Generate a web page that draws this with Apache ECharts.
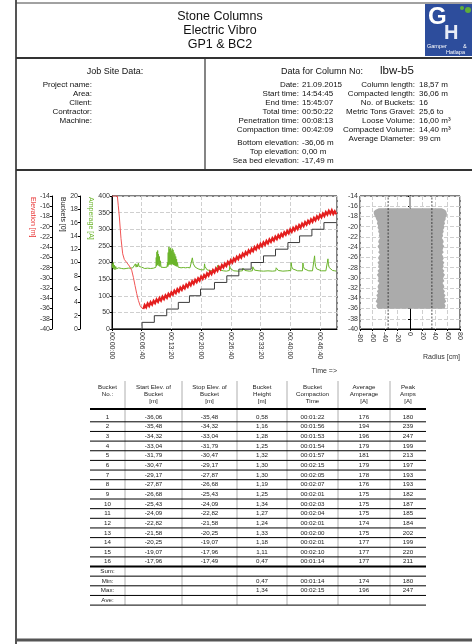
<!DOCTYPE html>
<html><head><meta charset="utf-8">
<script src="https://cdn.jsdelivr.net/npm/echarts/dist/echarts.min.js"></script>
<style>html,body{margin:0;padding:0;background:#fff;}#c{width:472px;height:644px;}</style>
</head><body><div id="c"></div>
<script>
// ---------- DATA ----------
const titleLines = ['Stone Columns', 'Electric Vibro', 'GP1 & BC2'];
const jobLabels = ['Project name:', 'Area:', 'Client:', 'Contractor:', 'Machine:'];
const columnNo = 'lbw-b5';
const info1Labels = ['Date:', 'Start time:', 'End time:', 'Total time:', 'Penetration time:', 'Compaction time:', 'Bottom elevation:', 'Top elevation:', 'Sea bed elevation:'];
const info1Values = ['21.09.2015', '14:54:45', '15:45:07', '00:50:22', '00:08:13', '00:42:09', '-36,06 m', '0,00 m', '-17,49 m'];
const info2Labels = ['Column length:', 'Compacted length:', 'No. of Buckets:', 'Metric Tons Gravel:', 'Loose Volume:', 'Compacted Volume:', 'Average Diameter:'];
const info2Values = ['18,57 m', '36,06 m', '16', '25,6 to', '16,00 m³', '14,40 m³', '99 cm'];

// elevation during penetration [s, m]
const elevDescent = [[0,-14],[72,-14],[84,-15.8],[99,-18.1],[121,-22.3],[144,-25.3],[166,-26.4],[198,-27.0],[234,-27.7],[265,-28.5],[288,-29.9],[310,-31.5],[333,-33.1],[355,-34.4],[378,-35.4],[400,-35.9],[423,-36.06]];
// elevation during compaction
const elevTime = [440,460,480,500,520,540,560,580,600,620,640,660,680,700,720,740,760,780,800,820,840,860,880,900,920,940,960,980,1000,1020,1040,1060,1080,1100,1120,1140,1160,1180,1200,1220,1240,1260,1280,1300,1320,1340,1360,1380,1400,1420,1440,1460,1480,1500,1520,1540,1560,1580,1600,1620,1640,1660,1680,1700,1720,1740,1760,1780,1800,1820,1840,1860,1880,1900,1920,1940,1960,1980,2000,2020,2040,2060,2080,2100,2120,2140,2160,2180,2200,2220,2240,2260,2280,2300,2320,2340,2360,2380,2400,2420,2440,2460,2480,2500,2520,2540,2560,2580,2600,2620,2640,2660,2680,2700,2720,2740,2760,2780,2800,2820,2840,2860,2880,2900,2920,2940,2960,2980,3000,3020];
const elevValue = [-35.30,-35.75,-35.02,-35.49,-34.75,-35.22,-34.49,-34.95,-34.22,-34.69,-33.95,-34.42,-33.69,-34.15,-33.42,-33.88,-33.13,-33.58,-32.83,-33.27,-32.52,-32.97,-32.22,-32.67,-31.91,-32.36,-31.61,-32.06,-31.31,-31.75,-31.00,-31.45,-30.70,-31.15,-30.39,-30.84,-30.09,-30.54,-29.78,-30.22,-29.46,-29.90,-29.14,-29.57,-28.81,-29.25,-28.49,-28.93,-28.17,-28.61,-27.85,-28.29,-27.53,-27.96,-27.20,-27.64,-26.88,-27.32,-26.56,-27.00,-26.24,-26.68,-25.92,-26.36,-25.60,-26.04,-25.28,-25.72,-24.96,-25.40,-24.64,-25.08,-24.32,-24.76,-24.00,-24.44,-23.68,-24.12,-23.36,-23.82,-23.08,-23.54,-22.80,-23.26,-22.51,-22.97,-22.23,-22.69,-21.95,-22.41,-21.67,-22.13,-21.39,-21.85,-21.10,-21.56,-20.82,-21.28,-20.54,-21.00,-20.26,-20.72,-19.98,-20.44,-19.69,-20.15,-19.41,-19.87,-19.13,-19.59,-18.85,-19.31,-18.57,-19.03,-18.28,-18.74,-18.00,-18.46,-17.72,-18.18,-17.44,-17.90,-17.16,-17.62,-16.90,-17.45,-16.80,-17.50,-17.00,-17.55];

// amperage [s, A]
const amperage = [[0,196],[8,184],[16,200],[24,180],[32,192],[40,178],[50,188],[60,181],[70,186],[80,179],[90,184],[100,180],[115,186],[130,182],[145,185],[160,181],[175,184],[190,182],[205,185],[220,183],[235,187],[250,183],[265,186],[280,184],[295,190],[305,185],[315,196],[325,186],[335,194],[345,187],[355,198],[365,188],[375,192],[385,185],[400,186],
[420,184],[440,182],[460,185],[480,183],[500,184],[520,182],[540,185],[560,183],[580,184],
[592,186],[596,215],[600,190],[605,232],[610,192],[615,236],[620,195],[626,225],[632,190],[638,218],[645,188],[652,205],[660,186],[680,184],[700,185],[720,183],[740,186],
[748,200],[752,188],[757,230],[762,192],[767,247],[772,195],[777,240],[782,193],[788,244],[793,196],[798,235],[804,194],[810,242],[816,195],[822,238],[828,193],[834,230],[840,192],[846,225],[852,190],[858,218],[864,189],[870,210],[876,188],[882,200],[890,186],
[910,185],[930,184],[960,185],[990,184],[1020,185],[1050,184],[1075,186],[1082,214],[1088,205],[1095,196],[1105,190],[1120,186],[1140,183],[1160,181],[1180,179],[1200,178],[1220,177],[1240,178],[1246,196],[1252,188],[1262,182],[1280,178],[1300,176],[1330,175],[1360,176],[1400,175],[1420,176],[1426,192],[1432,185],[1442,180],[1460,177],[1500,175],[1540,174],[1560,175],[1580,176],[1586,189],[1592,182],[1605,178],[1640,175],[1700,174],[1756,175],[1762,183],[1770,179],[1790,176],[1850,174],[1890,175],[1896,187],[1904,181],[1920,177],[1980,175],[2040,174],[2100,175],[2160,174],[2205,175],[2211,184],[2220,179],[2240,176],[2300,174],[2360,175],[2407,176],[2413,200],[2420,188],[2432,181],[2450,177],[2500,175],[2565,175],[2571,199],[2578,188],[2590,181],[2610,177],[2650,175],[2700,175],[2722,176],[2728,220],[2734,200],[2742,188],[2755,181],[2775,177],[2820,175],[2880,175],[2902,176],[2908,211],[2914,195],[2924,185],[2940,179],[2970,176],[3000,175],[3020,174]];

// bucket counter steps [s]
const bucketStepTime = [405,570,737,893,1043,1192,1380,1546,1708,1874,2040,2202,2369,2526,2692,2854];
const endTime = 3022;

// column radius profile
const profElev = [-36.06,-35.8,-35.4,-35.0,-34.6,-34.2,-33.8,-33.4,-33.0,-32.6,-32.2,-31.8,-31.4,-31.0,-30.6,-30.2,-29.8,-29.4,-29.0,-28.6,-28.2,-27.8,-27.4,-27.0,-26.6,-26.2,-25.8,-25.4,-25.0,-24.6,-24.2,-23.8,-23.4,-23.0,-22.6,-22.2,-21.8,-21.4,-21.0,-20.6,-20.2,-19.8,-19.4,-19.0,-18.6,-18.2,-17.8,-17.4,-17.0,-16.7,-16.4];
const profLeft = [51,53,54,52,55,53,52,54,51,53,50,52,51,49,52,50,51,53,50,52,49,51,50,52,49,51,50,48,51,49,50,52,49,51,50,48,50,49,51,50,52,51,53,52,54,55,57,58,58,55,50];
const profRight = [55,56,57,55,58,56,55,57,54,56,53,55,54,52,55,53,54,56,53,55,52,54,53,55,52,54,53,51,54,52,53,55,52,54,53,51,53,52,54,53,55,54,56,55,57,57,59,59,58,56,51];
const designRadius = 35;

// table
const tableHeaders = [['Bucket','No.:'],['Start Elev. of','Bucket','[m]'],['Stop Elev. of','Bucket','[m]'],['Bucket','Height','[m]'],['Bucket','Compaction','Time'],['Average','Amperage','[A]'],['Peak','Amps','[A]']];
const bucketNo = ['1','2','3','4','5','6','7','8','9','10','11','12','13','14','15','16'];
const startElev = ['-36,06','-35,48','-34,32','-33,04','-31,79','-30,47','-29,17','-27,87','-26,68','-25,43','-24,09','-22,82','-21,58','-20,25','-19,07','-17,96'];
const stopElev = ['-35,48','-34,32','-33,04','-31,79','-30,47','-29,17','-27,87','-26,68','-25,43','-24,09','-22,82','-21,58','-20,25','-19,07','-17,96','-17,49'];
const bucketHeight = ['0,58','1,16','1,28','1,25','1,32','1,30','1,30','1,19','1,25','1,34','1,27','1,24','1,33','1,18','1,11','0,47'];
const compTime = ['00:01:22','00:01:56','00:01:53','00:01:54','00:01:57','00:02:15','00:02:05','00:02:07','00:02:01','00:02:03','00:02:04','00:02:01','00:02:00','00:02:01','00:02:10','00:01:14'];
const avgAmp = ['176','194','196','179','181','179','178','176','175','175','175','174','175','177','177','177'];
const peakAmp = ['180','239','247','199','213','197','193','193','182','187','185','184','202','199','220','211'];
const summaryLabels = ['Sum:','Min:','Max:','Ave:'];
const summaryValues = [['','','','','',''],['','','0,47','00:01:14','174','180'],['','','1,34','00:02:15','196','247'],['','','','','','']];

// ---------- DRAW ----------
const FONT = '"Liberation Sans", Arial, Helvetica, sans-serif';
function T(text, x, y, size, o) {
  o = o || {};
  return {type:'text', x:x, y:y, rotation:o.rot||0, silent:true, z:10,
    style:{text:text, font:(o.bold?'bold ':'')+size+'px '+FONT, fill:o.fill||'#111',
      align:o.align||'left', verticalAlign:'middle', textAlign:o.align||'left', textVerticalAlign:'middle'}};
}
function L(x1,y1,x2,y2,w,c){ return {type:'line', silent:true, z:9, shape:{x1:x1,y1:y1,x2:x2,y2:y2}, style:{stroke:c||'#000', lineWidth:w||1}}; }
function R(x,y,w,h,f){ return {type:'rect', silent:true, z:8, shape:{x:x,y:y,width:w,height:h}, style:{fill:f}}; }

const g = [];
// frame
g.push(L(16,0,16,644,2,'#555'));
g.push(L(16,3,472,3,1,'#444'));
g.push(L(16,58,472,58,2,'#333'));
g.push(L(205,58,205,170,1.2,'#333'));
g.push(L(16,170,472,170,2,'#333'));
g.push(L(16,640,472,640,3,'#555'));
// title
titleLines.forEach((t,i)=>g.push(T(t,220,17+i*13.6,12.5,{align:'center'})));
// logo
g.push(R(425,4,47,52,'#2d4d9c'));
g.push(T('G',428,17,24,{bold:true,fill:'#fff'}));
g.push(T('H',444,33,20,{bold:true,fill:'#e8ecf6'}));
g.push(T('Gamper',427,46,5.5,{fill:'#fff'}));
g.push(T('&',463,46,5.5,{fill:'#fff'}));
g.push(T('Hatlapa',446,52,5.5,{fill:'#fff'}));
g.push({type:'circle', silent:true, z:9, shape:{cx:468,cy:10,r:3}, style:{fill:'#5fae3a'}});
g.push({type:'circle', silent:true, z:9, shape:{cx:462,cy:8,r:2}, style:{fill:'#5fae3a'}});
// job site
g.push(T('Job Site Data:',115,72,9,{align:'center'}));
jobLabels.forEach((t,i)=>g.push(T(t,92,85+i*9,8,{align:'right'})));
g.push(T('Data for Column No:',322,72,9,{align:'center'}));
g.push(T(columnNo,380,71,11.5));
info1Labels.forEach((t,i)=>{ const y = 85+i*9+(i>=6?4:0); g.push(T(t,299,y,8,{align:'right'})); g.push(T(info1Values[i],302,y,8)); });
info2Labels.forEach((t,i)=>{ const y = 85+i*9; g.push(T(t,415,y,8,{align:'right'})); g.push(T(info2Values[i],419,y,8)); });
// axis names
g.push(T('Elevation [m]',33,197,7,{rot:-Math.PI/2,fill:'#e83030'}));
g.push(T('Buckets [0]',63,197,7,{rot:-Math.PI/2,fill:'#222'}));
g.push(T('Amperage [A]',91,197,7,{rot:-Math.PI/2,fill:'#6ab42a'}));
g.push(T('Time =>',337,371,7,{align:'right',fill:'#333'}));
g.push(T('Radius [cm]',460,357,7,{align:'right',fill:'#333'}));

// table
const colX = [90,125,182,237,287,338,390,426];
const colC = colX.slice(0,-1).map((x,i)=>(x+colX[i+1])/2);
const tTop = 381, rowH = 9.65, row0 = 417;
for (let i=1;i<colX.length-1;i++) g.push(L(colX[i],tTop,colX[i],605,0.8,'#999'));
tableHeaders.forEach((lines,c)=>lines.forEach((t,k)=>g.push(T(t,colC[c],387+k*7,6.2,{align:'center',fill:'#222'}))));
g.push(L(90,409,426,409,2,'#000'));
const cols = [bucketNo,startElev,stopElev,bucketHeight,compTime,avgAmp,peakAmp];
bucketNo.forEach((b,i)=>{
  const y = row0 + i*rowH;
  cols.forEach((arr,c)=>g.push(T(arr[i],colC[c],y,6.2,{align:'center',fill:'#222'})));
  if (i<15) g.push(L(90,y+4.8,426,y+4.8,1,'#000'));
});
const yEnd16 = row0 + 15*rowH + 4.8;
g.push(L(90,yEnd16,426,yEnd16,2,'#000'));
summaryLabels.forEach((s,j)=>{
  const y = yEnd16 + 4.8 + j*rowH;
  g.push(T(s,colC[0],y,6.2,{align:'center',fill:'#222'}));
  summaryValues[j].forEach((v,c)=>{ if(v) g.push(T(v,colC[c+1],y,6.2,{align:'center',fill:'#222'})); });
  g.push(L(90,y+4.8,426,y+4.8,1,'#000'));
});

function hms(v){ const p=n=>String(n).padStart(2,'0'); return p(Math.floor(v/3600))+':'+p(Math.floor(v%3600/60))+':'+p(Math.floor(v%60)); }

const elevComp = elevTime.map((t,i)=>[t,elevValue[i]]);
const bucketData = [[0,0]].concat(bucketStepTime.map((t,i)=>[t,i+1])).concat([[endTime,bucketStepTime.length]]);

const axisCommon = {
  axisLine:{show:true,lineStyle:{color:'#000',width:1}},
  axisTick:{show:true,length:2,lineStyle:{color:'#000'}},
  axisLabel:{fontSize:7,color:'#333',margin:2,fontFamily:'Liberation Sans'},
  splitLine:{show:false}
};
const dashed = {show:true,lineStyle:{color:'#cfcfcf',type:'dashed',width:1}};

const option = {
  animation:false,
  backgroundColor:'#fff',
  grid:[
    {left:112,top:196,width:225,height:133,show:true,borderColor:'#000',borderWidth:1,backgroundColor:'transparent'},
    {left:360,top:196,width:100,height:133,show:true,borderColor:'#000',borderWidth:1,backgroundColor:'transparent'}
  ],
  xAxis:[
    Object.assign({},axisCommon,{gridIndex:0,type:'value',min:0,max:3030,interval:400,splitLine:dashed,
      axisLabel:Object.assign({},axisCommon.axisLabel,{rotate:-90,formatter:hms,showMaxLabel:false,margin:3})}),
    Object.assign({},axisCommon,{gridIndex:1,type:'value',min:-80,max:80,interval:20,splitLine:dashed,
      axisLabel:Object.assign({},axisCommon.axisLabel,{rotate:-90,margin:3})})
  ],
  yAxis:[
    Object.assign({},axisCommon,{gridIndex:0,type:'value',min:0,max:400,interval:50,position:'left',offset:0,splitLine:dashed}),
    Object.assign({},axisCommon,{gridIndex:0,type:'value',min:0,max:20,interval:2,position:'left',offset:32}),
    Object.assign({},axisCommon,{gridIndex:0,type:'value',min:-40,max:-14,interval:2,position:'left',offset:60}),
    Object.assign({},axisCommon,{gridIndex:1,type:'value',min:-40,max:-14,interval:2,position:'left',offset:0,splitLine:dashed})
  ],
  series:[
    {type:'line',xAxisIndex:0,yAxisIndex:0,data:amperage,showSymbol:false,symbol:'none',clip:true,
      lineStyle:{color:'#6ab42a',width:1},z:3},
    {type:'line',xAxisIndex:0,yAxisIndex:1,data:bucketData,step:'end',showSymbol:false,symbol:'none',clip:true,
      lineStyle:{color:'#3a3a3a',width:1},z:4},
    {type:'line',xAxisIndex:0,yAxisIndex:2,data:elevDescent,showSymbol:false,symbol:'none',clip:true,
      lineStyle:{color:'#f05555',width:1},z:5},
    {type:'line',xAxisIndex:0,yAxisIndex:2,data:[elevDescent[elevDescent.length-1]].concat(elevComp),showSymbol:false,symbol:'none',clip:true,
      lineStyle:{color:'#e41e1e',width:2.2,join:'miter'},z:5},
    {type:'custom',xAxisIndex:1,yAxisIndex:3,coordinateSystem:'cartesian2d',data:[[0,-25]],clip:true,z:3,
      renderItem:function(params,api){
        const pts=[];
        for(let i=0;i<profElev.length;i++) pts.push(api.coord([-profLeft[i],profElev[i]]));
        for(let i=profElev.length-1;i>=0;i--) pts.push(api.coord([profRight[i],profElev[i]]));
        return {type:'polygon',shape:{points:pts},style:{fill:'#ababab'}};
      }},
    {type:'line',xAxisIndex:1,yAxisIndex:3,data:[[0,profElev[profElev.length-1]],[0,-14]],showSymbol:false,symbol:'none',
      lineStyle:{color:'#ababab',width:2},z:3},
    {type:'line',xAxisIndex:1,yAxisIndex:3,data:[[-designRadius,-40],[-designRadius,-14]],showSymbol:false,symbol:'none',
      lineStyle:{color:'#222',width:0.8,type:[2,1.5]},z:4},
    {type:'line',xAxisIndex:1,yAxisIndex:3,data:[[designRadius,-40],[designRadius,-14]],showSymbol:false,symbol:'none',
      lineStyle:{color:'#222',width:0.8,type:[2,1.5]},z:4}
  ],
  graphic:{elements:g}
};
const chart = echarts.init(document.getElementById('c'), null, {width:472,height:644});
chart.setOption(option);
</script></body></html>
